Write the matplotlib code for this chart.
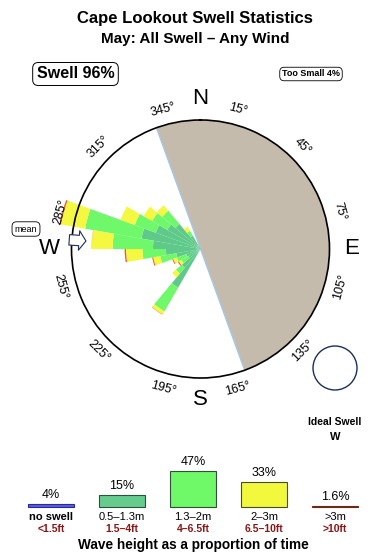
import numpy as np
import matplotlib
matplotlib.use('Agg')
import matplotlib.pyplot as plt
from matplotlib.patches import Circle

plt.rcParams['font.family'] = ['Liberation Sans', 'DejaVu Sans']

# swell direction bins (deg, coming from) and % of time in each height band
directions = [215, 225, 235, 245, 255, 265, 275, 285, 295, 305, 315, 325]
pct_05_13m = [3.0, 0.9, 0.3, 0.35, 0.9, 1.8, 3.4, 5.4, 3.4, 2.2, 1.6, 0.35]
pct_13_2m = [4.8, 0.64, 0.43, 0.6, 1.6, 3.25, 8.2, 15.2, 3.96, 2.5, 2.16, 0.31]
pct_2_3m = [0.76, 0.52, 0.21, 0.32, 0.96, 3.3, 6.2, 9.5, 3.5, 1.8, 1.14, 0.34]
pct_3m_up = [0.08, 0.0, 0.08, 0.08, 0.15, 0.3, 0.05, 0.6, 0.0, 0.0, 0.0, 0.0]
band_colors = ['#5fc98a', '#6ef86a', '#f4f840', '#f0582c']

tick_angles = [15, 45, 75, 105, 135, 165, 195, 225, 255, 285, 315, 345]
cardinal_angles = [0, 90, 180, 270]
cardinal_labels = ['N', 'E', 'S', 'W']
land_start = 340      # land sector runs clockwise from here for 180 deg
mean_dir = 274
circle_pct = 25       # outer circle value (radius ~ sqrt of %)

swell_pct = 96
too_small_pct = 4

legend_pct = [4, 15, 47, 33, 1.6]
legend_m = ['no swell', '0.5\u20131.3m', '1.3\u20132m', '2\u20133m', '>3m']
legend_ft = ['<1.5ft', '1.5\u20134ft', '4\u20136.5ft', '6.5\u201310ft', '>10ft']
legend_colors = ['#5a5af0', '#66cc8e', '#6ff868', '#f2f83c', '#8b3b2b']
legend_edges = ['#2a2a90', '#2f4f3a', '#2f4f3a', '#4a4a30', '#6b2b1b']

W, H = 390, 560
fig = plt.figure(figsize=(W / 100, H / 100), dpi=100)

fig.text(0.5, 1 - 18 / H, 'Cape Lookout Swell Statistics', ha='center', va='center',
         fontsize=12, weight='bold')
fig.text(0.5, 1 - 39 / H, 'May: All Swell \u2013 Any Wind', ha='center', va='center',
         fontsize=11, weight='bold')
fig.text(75.5 / W, 1 - 74 / H, f'Swell {swell_pct}%', ha='center', va='center',
         fontsize=11.5, weight='bold',
         bbox=dict(boxstyle='round,pad=0.25,rounding_size=0.35', fc='white', ec='k', lw=0.7))
fig.text(311 / W, 1 - 74 / H, f'Too Small {too_small_pct}%', ha='center', va='center',
         fontsize=6.5, weight='bold',
         bbox=dict(boxstyle='round,pad=0.25,rounding_size=0.5', fc='white', ec='k', lw=0.6))
fig.text(26 / W, 1 - 229 / H, 'mean', ha='center', va='center', fontsize=6.5,
         bbox=dict(boxstyle='round,pad=0.3,rounding_size=0.5', fc='white', ec='k', lw=0.6))

# rose
cx, cy, R = 200.5, 249, 129
ax = fig.add_axes([(cx - R) / W, (H - cy - R) / H, 2 * R / W, 2 * R / H], projection='polar')
ax.set_theta_zero_location('N')
ax.set_theta_direction(-1)
rmax = np.sqrt(circle_pct)
ax.set_ylim(0, rmax)
ax.grid(False)
ax.set_yticks([])
ax.set_xticks(np.deg2rad(tick_angles))
ax.set_xticklabels([])
ax.tick_params(axis='x', direction='out', length=4, width=0.8, colors='k')
ax.spines['polar'].set_linewidth(1.2)

land = np.deg2rad(np.linspace(land_start, land_start + 180, 200))
ax.fill_between(land, 0, rmax, color='#c5bbad', lw=0, zorder=0.5)
ax.plot(np.deg2rad([land_start, land_start]), [0, rmax], color='#9dc6e6', lw=0.9, zorder=0.6)
ax.plot(np.deg2rad([land_start + 180, land_start + 180]), [0, rmax], color='#9dc6e6', lw=0.9, zorder=0.6)

theta = np.deg2rad(directions)
cum = np.zeros(len(directions))
for vals, col in zip([pct_05_13m, pct_13_2m, pct_2_3m, pct_3m_up], band_colors):
    lo = np.sqrt(cum)
    cum = cum + np.array(vals)
    hi = np.sqrt(cum)
    ax.bar(theta, hi - lo, width=np.deg2rad(10), bottom=lo, color=col, lw=0,
           clip_on=False, zorder=2)

for a in tick_angles:
    rot = -a if (a < 90 or a > 270) else 180 - a
    ax.text(np.deg2rad(a), rmax * 1.12, f'{a}\u00b0', rotation=rot, rotation_mode='anchor',
            ha='center', va='center', fontsize=9)
for a, lab in zip(cardinal_angles, cardinal_labels):
    ax.text(np.deg2rad(a), rmax * 1.17, lab, ha='center', va='center', fontsize=16)

ax.annotate('', xy=(np.deg2rad(mean_dir), rmax * 0.89), xytext=(np.deg2rad(mean_dir), rmax * 1.02),
            arrowprops=dict(arrowstyle='simple,head_length=0.5,head_width=1.4,tail_width=0.75',
                            fc='white', ec='#1c2f55', lw=0.8, shrinkA=0, shrinkB=0),
            annotation_clip=False)

# ideal swell marker
fig.add_artist(Circle((3.35, (H - 368) / 100), 0.22, transform=fig.dpi_scale_trans,
                      fc='white', ec='#1c2f55', lw=1.0))
fig.text(335 / W, 1 - 422 / H, 'Ideal Swell', ha='center', va='center', fontsize=7.5, weight='bold')
fig.text(335 / W, 1 - 437 / H, 'W', ha='center', va='center', fontsize=8, weight='bold')

# legend as a small bar chart
lax = fig.add_axes([15.5 / W, 53 / H, 355 / W, 60 * 0.77 / H])
lax.set_xlim(-0.5, 4.5)
lax.set_ylim(0, 60)
lax.axis('off')
xs = np.arange(len(legend_pct))
lax.bar(xs, legend_pct, width=0.64, color=legend_colors, edgecolor=legend_edges, lw=0.8, clip_on=False)
for xi, p, m, ft in zip(xs, legend_pct, legend_m, legend_ft):
    lax.annotate(f'{p:g}%', (xi, p), xytext=(0, 6.5), textcoords='offset points',
                 ha='center', va='center', fontsize=9)
    lax.annotate(m, (xi, 0), xytext=(0, -7.5), textcoords='offset points', ha='center', va='center',
                 fontsize=8, weight='bold' if xi == 0 else 'normal')
    lax.annotate(ft, (xi, 0), xytext=(0, -16), textcoords='offset points', ha='center', va='center',
                 fontsize=7.5, weight='bold', color='#8b1515')
lax.annotate('Wave height as a proportion of time', (0.5, 0), xycoords='axes fraction',
             xytext=(0, -27.5), textcoords='offset points', ha='center', va='center',
             fontsize=9.8, weight='bold')

fig.savefig('out.png', dpi=100)
